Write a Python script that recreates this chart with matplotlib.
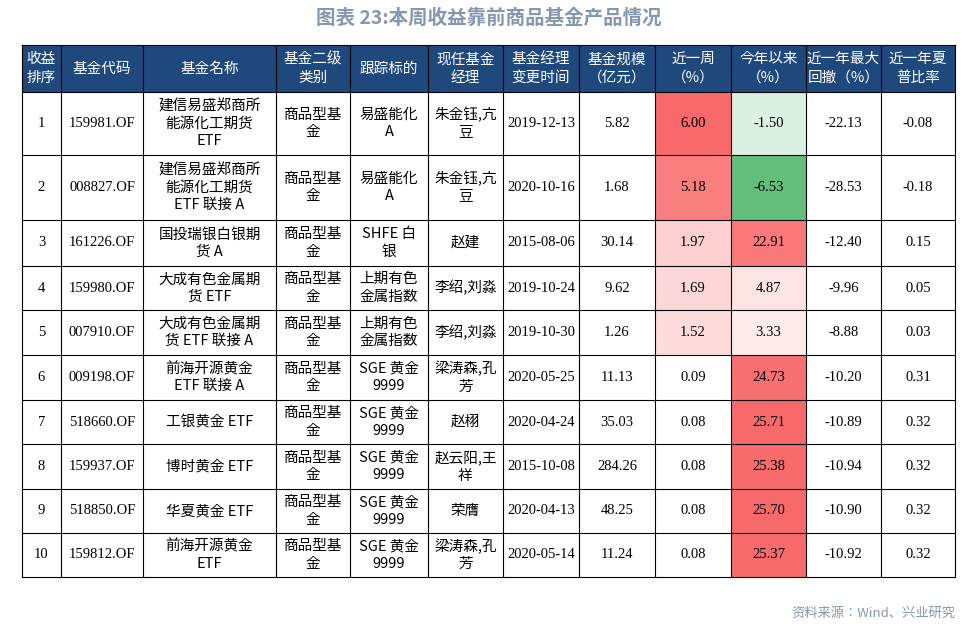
import matplotlib.pyplot as plt
from matplotlib import font_manager
from matplotlib.patches import Rectangle

# pick whatever CJK family is actually registered
cjk_names = sorted({f.name for f in font_manager.fontManager.ttflist if "CJK" in f.name})
CJK = next((n for n in cjk_names if n.endswith("SC")), cjk_names[0] if cjk_names else "DejaVu Sans")
NUM = "Liberation Serif"

headers = ["收益\n排序", "基金代码", "基金名称", "基金二级\n类别", "跟踪标的", "现任基金\n经理",
           "基金经理\n变更时间", "基金规模\n（亿元）", "近一周\n（%）", "今年以来\n（%）",
           "近一年最大\n回撤（%）", "近一年夏\n普比率"]
rank = [str(i) for i in range(1, 11)]
codes = ["159981.OF", "008827.OF", "161226.OF", "159980.OF", "007910.OF",
         "009198.OF", "518660.OF", "159937.OF", "518850.OF", "159812.OF"]
names = ["建信易盛郑商所\n能源化工期货\nETF", "建信易盛郑商所\n能源化工期货\nETF 联接 A",
         "国投瑞银白银期\n货 A", "大成有色金属期\n货 ETF", "大成有色金属期\n货 ETF 联接 A",
         "前海开源黄金\nETF 联接 A", "工银黄金 ETF", "博时黄金 ETF", "华夏黄金 ETF",
         "前海开源黄金\nETF"]
category = ["商品型基\n金"] * 10
tracking = ["易盛能化\nA", "易盛能化\nA", "SHFE 白\n银", "上期有色\n金属指数", "上期有色\n金属指数",
            "SGE 黄金\n9999", "SGE 黄金\n9999", "SGE 黄金\n9999", "SGE 黄金\n9999", "SGE 黄金\n9999"]
managers = ["朱金钰,亢\n豆", "朱金钰,亢\n豆", "赵建", "李绍,刘淼", "李绍,刘淼",
            "梁涛森,孔\n芳", "赵栩", "赵云阳,王\n祥", "荣膺", "梁涛森,孔\n芳"]
change_date = ["2019-12-13", "2020-10-16", "2015-08-06", "2019-10-24", "2019-10-30",
               "2020-05-25", "2020-04-24", "2015-10-08", "2020-04-13", "2020-05-14"]
scale = [5.82, 1.68, 30.14, 9.62, 1.26, 11.13, 35.03, 284.26, 48.25, 11.24]
week = [6.00, 5.18, 1.97, 1.69, 1.52, 0.09, 0.08, 0.08, 0.08, 0.08]
ytd = [-1.50, -6.53, 22.91, 4.87, 3.33, 24.73, 25.71, 25.38, 25.70, 25.37]
drawdown = [-22.13, -28.53, -12.40, -9.96, -8.88, -10.20, -10.89, -10.94, -10.90, -10.92]
sharpe = [-0.08, -0.18, 0.15, 0.05, 0.03, 0.31, 0.32, 0.32, 0.32, 0.32]

W, H = 978, 628
col_x = [22, 61, 143, 276, 350, 428, 503, 579, 655, 731, 806, 881, 955]
row_y = [45, 92, 155, 220, 266, 310, 355, 400, 444, 489, 533, 577]

RED = (248/255, 105/255, 107/255)
GREEN = (99/255, 190/255, 123/255)


def mix(c, t):
    return tuple(1 - t * (1 - v) for v in c)


def week_color(v):
    lo, hi = min(week), max(week)
    return mix(RED, (v - lo) / (hi - lo))


def ytd_color(v):
    if v >= 0:
        return mix(RED, v / max(ytd))
    return mix(GREEN, v / min(ytd))


fig = plt.figure(figsize=(W / 100, H / 100), dpi=100)
ax = fig.add_axes([0, 0, 1, 1])
ax.set_xlim(0, W)
ax.set_ylim(H, 0)
ax.axis("off")

ax.text(489, 18, "图表 23:本周收益靠前商品基金产品情况", ha="center", va="center",
        fontsize=14, fontweight="bold", color="#8496b0", family=CJK)

# header
ax.add_patch(Rectangle((col_x[0], row_y[0]), col_x[-1] - col_x[0], row_y[1] - row_y[0],
                       facecolor="#1f497d", edgecolor="none"))
for j, h in enumerate(headers):
    ax.text((col_x[j] + col_x[j + 1]) / 2, (row_y[0] + row_y[1]) / 2, h, ha="center",
            va="center", color="white", fontsize=10.5, family=CJK, linespacing=1.4)

for i in range(10):
    y0, y1 = row_y[i + 1], row_y[i + 2]
    cy = (y0 + y1) / 2
    cells = [rank[i], codes[i], names[i], category[i], tracking[i], managers[i],
             change_date[i], f"{scale[i]:.2f}", f"{week[i]:.2f}", f"{ytd[i]:.2f}",
             f"{drawdown[i]:.2f}", f"{sharpe[i]:.2f}"]
    for j, txt in enumerate(cells):
        x0, x1 = col_x[j], col_x[j + 1]
        if j == 8:
            ax.add_patch(Rectangle((x0, y0), x1 - x0, y1 - y0, facecolor=week_color(week[i]), edgecolor="none"))
        if j == 9:
            ax.add_patch(Rectangle((x0, y0), x1 - x0, y1 - y0, facecolor=ytd_color(ytd[i]), edgecolor="none"))
        fam = CJK if j in (2, 3, 4, 5) else NUM
        ax.text((x0 + x1) / 2, cy, txt, ha="center", va="center", fontsize=10.5,
                family=fam, color="black", linespacing=1.3)

# grid lines
for x in col_x:
    ax.plot([x, x], [row_y[0], row_y[-1]], color="black", lw=0.8)
for y in row_y:
    ax.plot([col_x[0], col_x[-1]], [y, y], color="black", lw=0.8)

ax.text(955, 613, "资料来源：Wind、兴业研究", ha="right", va="center", fontsize=9.5,
        color="#8496b0", family=CJK)

fig.savefig("out.png", dpi=100)
